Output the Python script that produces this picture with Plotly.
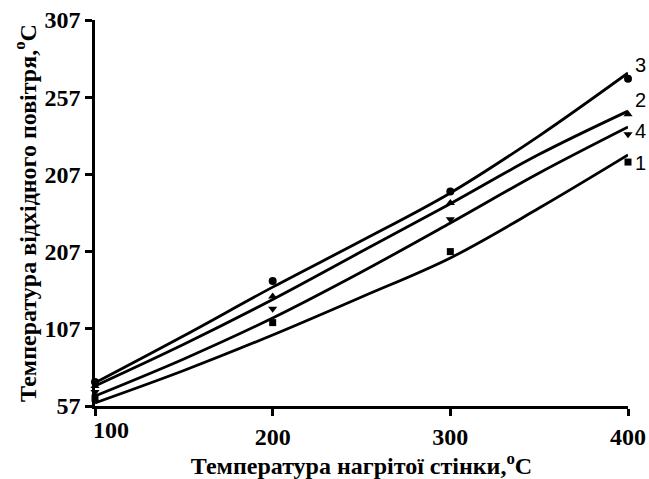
import plotly.graph_objects as go

# Wall temperature, °C
wall_t = [100, 200, 300, 400]
# Measured exhaust-air temperature, °C (series 1..4)
meas_1 = [62, 111, 157, 215]
meas_2 = [70, 128, 188.5, 246]
meas_3 = [72.5, 138, 196, 269]
meas_4 = [66, 120, 178, 233]

# Fitted trend curves
fit_x = [100, 150, 200, 250, 300, 350, 400]
fit_1 = [59.0, 80.0, 103.0, 127.6, 152.9, 185.2, 219.6]
fit_2 = [70, 97, 126, 157, 188, 220, 248]
fit_3 = [72, 102.5, 134, 164, 195, 232, 272.7]
fit_4 = [63.5, 87.5, 114.0, 143.8, 175.5, 207.9, 237.7]

y_ticks = [57, 107, 157, 207, 257, 307]
y_labels = ["57", "107", "207", "207", "257", "307"]
x_ticks = [200, 300, 400]
x_labels = ["200", "300", "400"]

series_names = ["1", "2", "3", "4"]
label_y = [214.4, 255.2, 277.9, 235.0]

fig = go.Figure()

for fy in (fit_1, fit_2, fit_3, fit_4):
    fig.add_trace(go.Scatter(
        x=fit_x, y=fy, mode="lines", line=dict(color="black", width=2.8, shape="spline"),
        showlegend=False, hoverinfo="skip", cliponaxis=False))

markers = [("square", 7, meas_1), ("triangle-up", 8, meas_2),
           ("circle", 8, meas_3), ("triangle-down", 8, meas_4)]
for sym, sz, my in markers:
    fig.add_trace(go.Scatter(
        x=wall_t, y=my, mode="markers",
        marker=dict(symbol=sym, size=sz, color="black"),
        showlegend=False, cliponaxis=False))

# Curve numbers at the right end of each fit
for name, ly in zip(series_names, label_y):
    fig.add_annotation(x=400, y=ly, xref="x", yref="y", text=name, showarrow=False,
                       xanchor="left", xshift=5,
                       font=dict(family="Liberation Sans", size=20, color="black"))

# "100" label nudged right of the axis corner
fig.add_annotation(x=100, y=0, xref="x", yref="paper", text="<b>100</b>", showarrow=False,
                   xanchor="center", yanchor="top", xshift=16, yshift=-9,
                   font=dict(family="Liberation Serif", size=24, color="black"))

axis_font = dict(family="Liberation Serif", size=24, color="black")
fig.update_xaxes(
    range=[100, 400], tickvals=x_ticks, ticktext=["<b>%s</b>" % t for t in x_labels],
    minor=dict(tickvals=[100], ticks="outside", ticklen=7, tickwidth=2.5, tickcolor="black",
               showgrid=False),
    showline=True, linecolor="black", linewidth=2.5, ticks="outside", ticklen=7,
    tickwidth=2.5, tickcolor="black", showgrid=False, zeroline=False, automargin=False,
    tickfont=axis_font,
    title=dict(text="<b>Температура нагрітої стінки,<sup>o</sup>C</b>",
               font=dict(family="Liberation Serif", size=24, color="black"), standoff=2))
fig.update_yaxes(
    range=[57, 307], tickvals=y_ticks, ticktext=["<b>%s</b>" % t for t in y_labels],
    showline=True, linecolor="black", linewidth=2.5, ticks="outside", ticklen=7,
    tickwidth=2.5, tickcolor="black", showgrid=False, zeroline=False, automargin=False,
    tickfont=axis_font,
    title=dict(text="<b>Температура відхідного повітря,<sup>o</sup>C</b>",
               font=dict(family="Liberation Serif", size=24, color="black"), standoff=2))

fig.update_layout(
    width=649, height=479, margin=dict(l=95, r=21, t=20, b=73),
    plot_bgcolor="white", paper_bgcolor="white", showlegend=False)

fig.write_html("out.html")
